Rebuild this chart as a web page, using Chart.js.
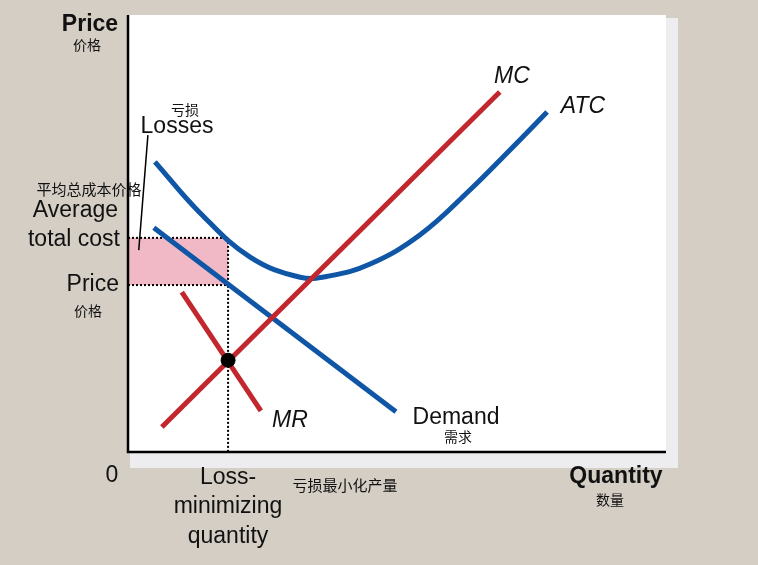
<!DOCTYPE html>
<html>
<head>
<meta charset="utf-8">
<title>Loss-minimizing firm</title>
<script src="https://cdn.jsdelivr.net/npm/chart.js@4/dist/chart.umd.min.js"></script>
<style>
  html, body { margin: 0; padding: 0; background: #d4cec5; }
  #wrap { width: 758px; height: 565px; }
</style>
</head>
<body>
<div id="wrap"><canvas id="c" width="758" height="565"></canvas></div>
<script>
// curve points (quantity, price), axes 0..10
var mcQ = [0.63, 6.91];
var mcP = [0.57, 8.24];
var mrQ = [1.00, 2.47];
var mrP = [3.66, 0.94];
var demandQ = [0.48, 4.98];
var demandP = [5.13, 0.92];
var atcQ = [0.50, 1.34, 2.27, 3.20, 3.75, 4.50, 5.43, 6.36, 7.10, 7.79];
var atcP = [6.64, 5.47, 4.46, 4.00, 4.03, 4.30, 4.97, 6.00, 6.91, 7.78];
var lossQ = 1.86;      // loss-minimizing quantity
var atcLevel = 4.90;   // average total cost at that quantity
var priceLevel = 3.82; // price at that quantity
var mcAtQ = 2.10;      // MC = MR
var pointerQ = [0.37, 0.20];
var pointerP = [7.25, 4.62];

var red = "#c1272d";
var blue = "#0f56a6";

function pts(xs, ys) {
  return xs.map(function (x, i) { return { x: x, y: ys[i] }; });
}

// text labels (canvas pixels)
var labels = [
  { t: "Price", x: 90, y: 25, f: "bold 23px 'Liberation Sans', Arial" },
  { t: "价格", x: 87, y: 45, f: "14px 'Noto Sans CJK SC'" },
  { t: "亏损", x: 185, y: 110, f: "14px 'Noto Sans CJK SC'" },
  { t: "Losses", x: 177, y: 127, f: "23px 'Liberation Sans', Arial" },
  { t: "平均总成本价格", x: 89, y: 189, f: "15px 'Noto Sans CJK SC'" },
  { t: "Average", x: 118, y: 211, f: "23px 'Liberation Sans', Arial", a: "right" },
  { t: "total cost", x: 120, y: 240, f: "23px 'Liberation Sans', Arial", a: "right" },
  { t: "Price", x: 119, y: 285, f: "23px 'Liberation Sans', Arial", a: "right" },
  { t: "价格", x: 88, y: 311, f: "14px 'Noto Sans CJK SC'" },
  { t: "0", x: 112, y: 476, f: "23px 'Liberation Sans', Arial" },
  { t: "Loss-", x: 228, y: 478, f: "23px 'Liberation Sans', Arial" },
  { t: "minimizing", x: 228, y: 507, f: "23px 'Liberation Sans', Arial" },
  { t: "quantity", x: 228, y: 537, f: "23px 'Liberation Sans', Arial" },
  { t: "亏损最小化产量", x: 345, y: 485, f: "15px 'Noto Sans CJK SC'" },
  { t: "Quantity", x: 616, y: 477, f: "bold 23px 'Liberation Sans', Arial" },
  { t: "数量", x: 610, y: 500, f: "14px 'Noto Sans CJK SC'" },
  { t: "MC", x: 512, y: 77, f: "italic 23px 'Liberation Sans', Arial" },
  { t: "ATC", x: 583, y: 107, f: "italic 23px 'Liberation Sans', Arial" },
  { t: "MR", x: 290, y: 421, f: "italic 23px 'Liberation Sans', Arial" },
  { t: "Demand", x: 456, y: 418, f: "23px 'Liberation Sans', Arial" },
  { t: "需求", x: 458, y: 437, f: "14px 'Noto Sans CJK SC'" }
];

var panel = {
  id: "panel",
  beforeDraw: function (chart) {
    var ctx = chart.ctx, a = chart.chartArea;
    ctx.save();
    ctx.fillStyle = "#d4cec5";
    ctx.fillRect(0, 0, chart.width, chart.height);
    ctx.fillStyle = "#ededef";
    ctx.fillRect(a.left + 2, a.top + 3, a.right - a.left + 10, a.bottom - a.top + 13);
    ctx.fillStyle = "#ffffff";
    ctx.fillRect(a.left, a.top, a.right - a.left, a.bottom - a.top);
    ctx.restore();
  },
  afterDraw: function (chart) {
    var ctx = chart.ctx, a = chart.chartArea;
    ctx.save();
    ctx.strokeStyle = "#000";
    ctx.lineWidth = 2.5;
    ctx.beginPath();
    ctx.moveTo(a.left, a.top);
    ctx.lineTo(a.left, a.bottom);
    ctx.lineTo(a.right, a.bottom);
    ctx.stroke();
    ctx.fillStyle = "#111";
    ctx.textBaseline = "middle";
    labels.forEach(function (l) {
      ctx.font = l.f;
      ctx.textAlign = l.a || "center";
      ctx.fillText(l.t, l.x, l.y);
    });
    ctx.restore();
  }
};

var dotted = { borderColor: "#000", borderWidth: 2, borderDash: [2, 2], pointRadius: 0, showLine: true, fill: false };

new Chart(document.getElementById("c"), {
  type: "scatter",
  data: {
    datasets: [
      { label: "MC=MR", data: [{ x: lossQ, y: mcAtQ }], pointRadius: 7, backgroundColor: "#000", borderColor: "#000" },
      { label: "MC", data: pts(mcQ, mcP), borderColor: red, borderWidth: 5, pointRadius: 0, showLine: true },
      { label: "MR", data: pts(mrQ, mrP), borderColor: red, borderWidth: 5, pointRadius: 0, showLine: true },
      { label: "Demand", data: pts(demandQ, demandP), borderColor: blue, borderWidth: 5, pointRadius: 0, showLine: true },
      { label: "ATC", data: pts(atcQ, atcP), borderColor: blue, borderWidth: 5, pointRadius: 0, showLine: true, tension: 0.4 },
      { label: "pointer", data: pts(pointerQ, pointerP), borderColor: "#000", borderWidth: 1.5, pointRadius: 0, showLine: true },
      Object.assign({ label: "atc level", data: [{ x: 0, y: atcLevel }, { x: lossQ, y: atcLevel }], backgroundColor: "#f1b9c6" }, dotted, { fill: "+1" }),
      Object.assign({ label: "price level", data: [{ x: 0, y: priceLevel }, { x: lossQ, y: priceLevel }] }, dotted),
      Object.assign({ label: "quantity", data: [{ x: lossQ, y: atcLevel }, { x: lossQ, y: 0 }] }, dotted)
    ]
  },
  options: {
    responsive: false,
    animation: false,
    layout: { padding: { left: 128, right: 92, top: 15, bottom: 113 } },
    scales: {
      x: { type: "linear", min: 0, max: 10, display: false },
      y: { type: "linear", min: 0, max: 10, display: false }
    },
    plugins: {
      legend: { display: false },
      tooltip: { enabled: false },
      filler: { drawTime: "beforeDatasetsDraw" }
    }
  },
  plugins: [panel]
});
</script>
</body>
</html>
